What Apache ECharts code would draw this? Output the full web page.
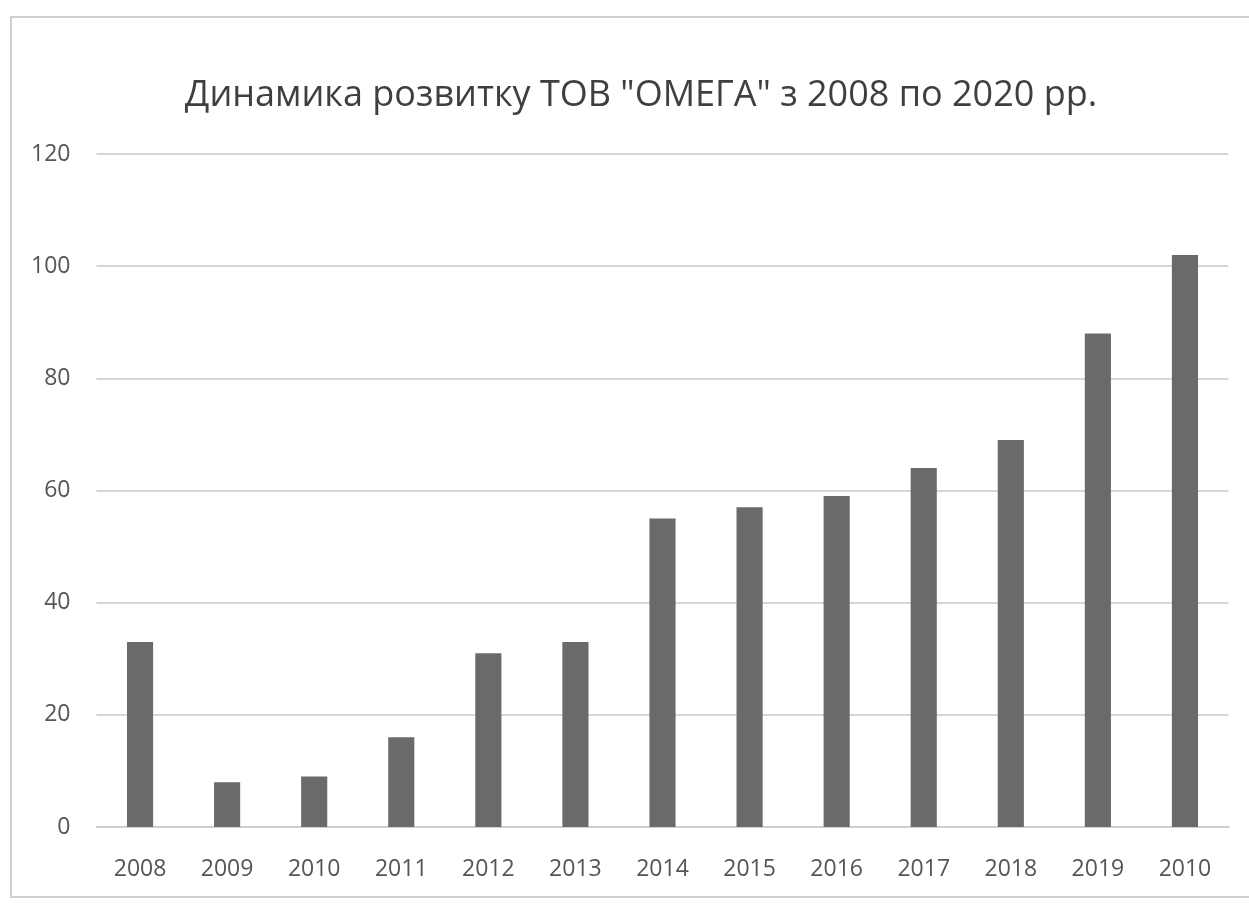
<!DOCTYPE html>
<html>
<head>
<meta charset="utf-8">
<title>Динамика розвитку ТОВ "ОМЕГА"</title>
<script src="https://cdn.jsdelivr.net/npm/echarts@6/dist/echarts.min.js"></script>
<style>
  html, body { margin: 0; padding: 0; background: #ffffff; }
  #chart { width: 1249px; height: 903px; }
</style>
</head>
<body>
<div id="chart"></div>
<script>
// Year labels along the horizontal axis (the last one is printed as "2010")
const years = ['2008', '2009', '2010', '2011', '2012', '2013', '2014',
               '2015', '2016', '2017', '2018', '2019', '2010'];
// Yearly values of the company
const values = [33, 8, 9, 16, 31, 33, 55, 57, 59, 64, 69, 88, 102];
// Value axis range
const yMin = 0;
const yMax = 120;
const yStep = 20;

const titleText = 'Динамика розвитку ТОВ "ОМЕГА" з 2008 по 2020 рр.';

const FONT = '"Open Sans", "Noto Sans", sans-serif';

const chart = echarts.init(document.getElementById('chart'), null, { renderer: 'canvas' });

chart.setOption({
  backgroundColor: '#ffffff',
  animation: false,
  graphic: [{
    type: 'rect',
    shape: { x: 11, y: 17, width: 1250, height: 880 },
    style: { fill: 'none', stroke: '#cfcfcf', lineWidth: 2 },
    silent: true,
    z: 0
  }],
  title: {
    text: titleText,
    left: 636,
    top: 73,
    textAlign: 'center',
    textStyle: {
      fontFamily: FONT,
      fontSize: 36,
      fontWeight: 'normal',
      color: '#3f3f3f'
    }
  },
  grid: {
    left: 96.5,
    right: 20.5,
    top: 154,
    bottom: 76,
    containLabel: false
  },
  xAxis: {
    type: 'category',
    data: years,
    axisLine: { show: true, lineStyle: { color: '#cfcfcf', width: 2 } },
    axisTick: { show: false },
    axisLabel: {
      fontFamily: FONT,
      fontSize: 23,
      color: '#555555',
      margin: 31,
      interval: 0
    }
  },
  yAxis: {
    type: 'value',
    min: yMin,
    max: yMax,
    interval: yStep,
    axisLine: { show: false },
    axisTick: { show: false },
    axisLabel: {
      fontFamily: FONT,
      fontSize: 23,
      color: '#555555',
      margin: 26
    },
    splitLine: { show: true, lineStyle: { color: '#d6d6d6', width: 2 } }
  },
  series: [{
    type: 'bar',
    data: values,
    barWidth: '30%',
    itemStyle: { color: '#6a6a6a' }
  }]
});
</script>
</body>
</html>
